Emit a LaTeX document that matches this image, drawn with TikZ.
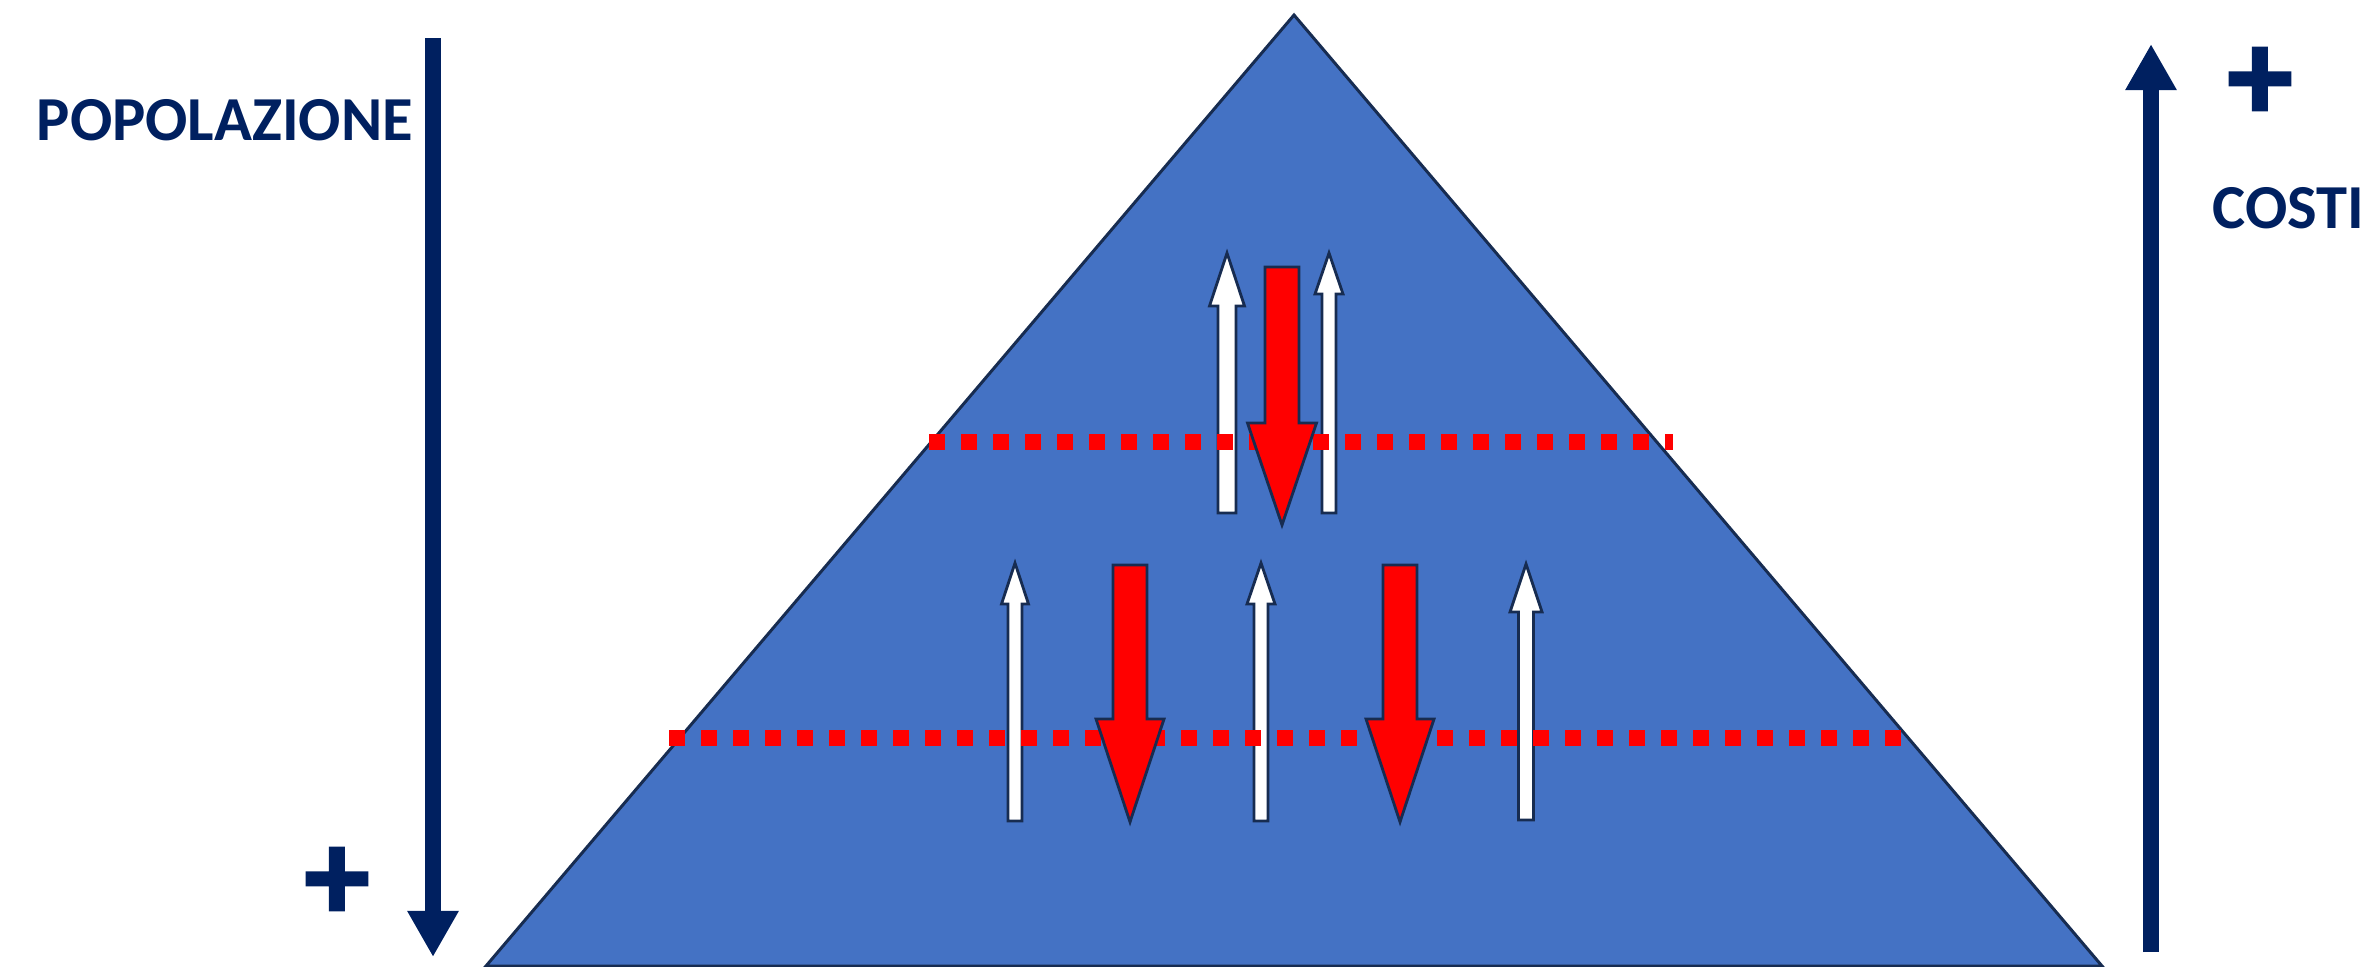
\documentclass[tikz,border=0pt]{standalone}
\usepackage{fontspec}
\setmainfont{Carlito}
\newfontfamily\plusfont[BoldFeatures={FakeBold=2.2}]{Carlito}
\usetikzlibrary{arrows.meta}
\definecolor{navy}{HTML}{002060}
\definecolor{pyrblue}{HTML}{4472C4}
\definecolor{outl}{HTML}{172C51}
\definecolor{dotred}{HTML}{FF0000}
\tikzset{
 pyr/.style={fill=pyrblue, draw=outl, line width=0.85pt, line join=miter},
 whitearr/.style={fill=white, draw=outl, line width=0.8pt, line join=miter},
 redarr/.style={fill=dotred, draw=outl, line width=0.8pt, line join=miter},
 dotline/.style={draw=dotred, line width=4.55pt, dash pattern=on 4.55pt off 4.55pt},
 navyarrow/.style={draw=navy, line width=4.55pt, -{Triangle[length=13.1pt,width=13.7pt]}},
 lbl/.style={text=navy, font=\fontsize{17.8pt}{20pt}\selectfont\bfseries, inner sep=0pt},
 plussign/.style={text=navy, font=\plusfont\fontsize{37pt}{37pt}\selectfont\bfseries, inner sep=0pt},
}
% style, cx, tip y, head-base y, tail y, shaft half width, head half width
\newcommand{\blockarr}[7]{%
 \path[#1] ({#2},{#3}) -- ({#2+#7},{#4}) -- ({#2+#6},{#4}) -- ({#2+#6},{#5})
   -- ({#2-#6},{#5}) -- ({#2-#6},{#4}) -- ({#2-#7},{#4}) -- cycle;}
\begin{document}
\begin{tikzpicture}[x=0.01cm, y=-0.01cm]
\useasboundingbox (0,0) rectangle (2376,966);
% pyramid
\coordinate (apex) at (1294,15);
\coordinate (bl) at (486,966);
\coordinate (br) at (2102,966);
\draw[pyr] (apex) -- (br) -- (bl) -- cycle;
% white arrows
\blockarr{whitearr}{1227}{253}{306}{513}{9}{17.5}
\blockarr{whitearr}{1329}{253}{294}{513}{7}{14}
\blockarr{whitearr}{1015}{563}{604}{821}{7}{13.5}
\blockarr{whitearr}{1261}{563}{604}{821}{7}{14}
\blockarr{whitearr}{1526}{564}{612}{820}{7.5}{16}
% dotted lines
\coordinate (upL) at (929,442);
\coordinate (upR) at (1673,442);
\coordinate (loL) at (669,738);
\coordinate (loR) at (1901,738);
\draw[dotline] (upL) -- (upR);
\draw[dotline] (loL) -- (loR);
% red arrows
\blockarr{redarr}{1282}{525}{423}{267}{17}{34.5}
\blockarr{redarr}{1130}{822}{719}{565}{17}{34}
\blockarr{redarr}{1400}{822}{719}{565}{17}{34}
% axes
\coordinate (popTop) at (433,38);
\coordinate (popBot) at (433,957);
\draw[navyarrow] (popTop) -- (popBot);
\coordinate (cosBot) at (2151,952);
\coordinate (cosTop) at (2151,44);
\draw[navyarrow] (cosBot) -- (cosTop);
% labels
\node[lbl, anchor=base west] (pop) at (36,140) {POPOLAZIONE};
\node[lbl, anchor=base west] (cos) at (2212,228) {COSTI};
\node[plussign] (plusL) at (337,884) {+};
\node[plussign] (plusR) at (2260,84) {+};
\end{tikzpicture}
\end{document}
